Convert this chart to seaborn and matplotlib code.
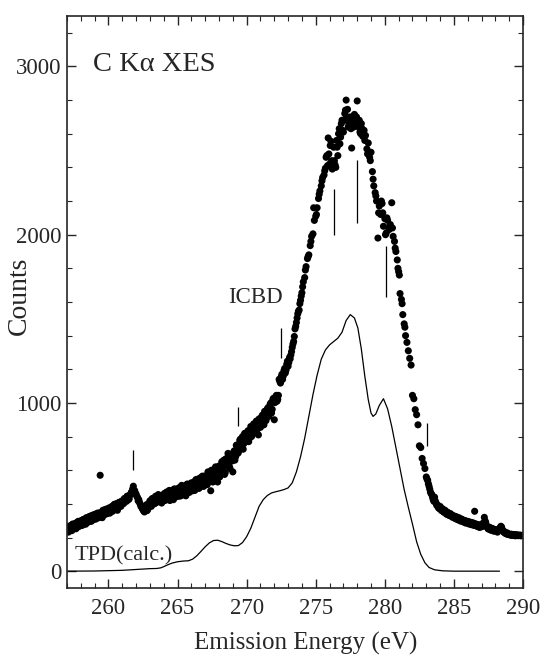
"""
C K-alpha XES spectrum with calculated TPD curve
"""

import numpy as np
import pandas as pd
import matplotlib
matplotlib.use("Agg")
import matplotlib.pyplot as plt
from matplotlib.ticker import MultipleLocator
import seaborn as sns

sns.set_style("ticks")
plt.rcParams['font.family'] = ['Liberation Serif', 'DejaVu Serif']

xes_energy = [
    257.0, 257.1, 257.2, 257.3, 257.4, 257.5, 257.6, 257.7, 257.8, 257.9,
    258.0, 258.1, 258.2, 258.3, 258.4, 258.5, 258.6, 258.7, 258.8, 258.9,
    259.0, 259.1, 259.2, 259.3, 259.4, 259.5, 259.6, 259.7, 259.8, 259.9,
    260.0, 260.1, 260.2, 260.3, 260.4, 260.5, 260.6, 260.7, 260.8, 260.9,
    261.0, 261.1, 261.2, 261.3, 261.4, 261.5, 261.6, 261.7, 261.8, 261.9,
    262.0, 262.1, 262.2, 262.3, 262.4, 262.5, 262.6, 262.7, 262.8, 262.9,
    263.0, 263.1, 263.2, 263.3, 263.4, 263.5, 263.6, 263.7, 263.8, 263.9,
    264.0, 264.1, 264.2, 264.3, 264.4, 264.5, 264.6, 264.7, 264.8, 264.9,
    265.0, 265.1, 265.2, 265.3, 265.4, 265.5, 265.6, 265.7, 265.8, 265.9,
    266.0, 266.1, 266.2, 266.3, 266.4, 266.5, 266.6, 266.7, 266.8, 266.9,
    267.0, 267.1, 267.2, 267.3, 267.4, 267.5, 267.6, 267.7, 267.8, 267.9,
    268.0, 268.1, 268.2, 268.3, 268.4, 268.5, 268.6, 268.7, 268.8, 268.9,
    269.0, 269.1, 269.2, 269.3, 269.4, 269.5, 269.6, 269.7, 269.8, 269.9,
    270.0, 270.1, 270.2, 270.3, 270.4, 270.5, 270.6, 270.7, 270.8, 270.9,
    271.0, 271.1, 271.2, 271.3, 271.4, 271.5, 271.6, 271.7, 271.8, 271.9,
    272.0, 272.1, 272.2, 272.3, 272.4, 272.5, 272.6, 272.7, 272.8, 272.9,
    273.0, 273.1, 273.2, 273.3, 273.4, 273.5, 273.6, 273.7, 273.8, 273.9,
    274.0, 274.1, 274.2, 274.3, 274.4, 274.5, 274.6, 274.7, 274.8, 274.9,
    275.0, 275.1, 275.2, 275.3, 275.4, 275.5, 275.6, 275.7, 275.8, 275.9,
    276.0, 276.1, 276.2, 276.3, 276.4, 276.5, 276.6, 276.7, 276.8, 276.9,
    277.0, 277.1, 277.2, 277.3, 277.4, 277.5, 277.6, 277.7, 277.8, 277.9,
    278.0, 278.1, 278.2, 278.3, 278.4, 278.5, 278.6, 278.7, 278.8, 278.9,
    279.0, 279.1, 279.2, 279.3, 279.4, 279.5, 279.6, 279.7, 279.8, 279.9,
    280.0, 280.1, 280.2, 280.3, 280.4, 280.5, 280.6, 280.7, 280.8, 280.9,
    281.0, 281.1, 281.2, 281.3, 281.4, 281.5, 281.6, 281.7, 281.8, 281.9,
    282.0, 282.1, 282.2, 282.3, 282.4, 282.5, 282.6, 282.7, 282.8, 282.9,
    283.0, 283.1, 283.2, 283.3, 283.4, 283.5, 283.6, 283.7, 283.8, 283.9,
    284.0, 284.1, 284.2, 284.3, 284.4, 284.5, 284.6, 284.7, 284.8, 284.9,
    285.0, 285.1, 285.2, 285.3, 285.4, 285.5, 285.6, 285.7, 285.8, 285.9,
    286.0, 286.1, 286.2, 286.3, 286.4, 286.5, 286.6, 286.7, 286.8, 286.9,
    287.0, 287.1, 287.2, 287.3, 287.4, 287.5, 287.6, 287.7, 287.8, 287.9,
    288.0, 288.1, 288.2, 288.3, 288.4, 288.5, 288.6, 288.7, 288.8, 288.9,
    289.0, 289.1, 289.2, 289.3, 289.4, 289.5, 289.6, 289.7, 289.8, 289.9,
    290.0,
]
xes_counts = [
    255, 232, 268, 245, 280, 252, 285, 258, 296, 268,
    300, 272, 308, 285, 318, 290, 324, 298, 332, 305,
    338, 310, 345, 318, 570, 330, 362, 335, 368, 342,
    374, 345, 382, 356, 395, 368, 402, 375, 410, 385,
    418, 402, 428, 415, 442, 430, 456, 472, 505, 478,
    458, 438, 425, 398, 382, 365, 352, 372, 360, 392,
    418, 385, 432, 400, 445, 410, 455, 415, 420, 448,
    455, 420, 470, 432, 480, 440, 458, 425, 488, 462,
    490, 445, 478, 510, 462, 495, 448, 518, 480, 500,
    525, 478, 512, 540, 495, 548, 510, 520, 565, 505,
    560, 515, 590, 535, 478, 575, 548, 610, 565, 530,
    625, 570, 650, 605, 575, 668, 628, 690, 610, 672,
    590, 715, 680, 750, 705, 778, 730, 800, 758, 820,
    772, 835, 790, 860, 808, 875, 825, 892, 850, 905,
    855, 920, 875, 950, 895, 965, 920, 992, 940, 1022,
    900, 1035, 1010, 1045, 1128, 1155, 1140, 1192, 1178, 1230,
    1218, 1270, 1285, 1330, 1365, 1440, 1478, 1530, 1552, 1610,
    1655, 1720, 1745, 1810, 1858, 1880, 1935, 1990, 2005, 2085,
    2110, 2160, 2215, 2260, 2290, 2340, 2355, 2395, 2470, 2575,
    2420, 2555, 2390, 2520, 2415, 2560, 2470, 2630, 2580, 2680,
    2610, 2720, 2800, 2745, 2660, 2700, 2515, 2650, 2715, 2670,
    2795, 2640, 2610, 2660, 2585, 2620, 2590, 2510, 2545, 2460,
    2490, 2375, 2290, 2250, 2200, 1980, 2170, 2120, 2185, 2050,
    2095, 2010, 2085, 2030, 2060, 2190, 1990, 1960, 1900, 1850,
    1780, 1650, 1615, 1525, 1470, 1400, 1360, 1310, 1265, 1225,
    1045, 1025, 960, 930, 870, 745, 735, 670, 640, 610,
    560, 540, 505, 470, 455, 425, 440, 405, 395, 375,
    385, 360, 368, 350, 356, 338, 345, 330, 336, 320,
    328, 312, 318, 305, 314, 298, 306, 292, 300, 288,
    296, 280, 290, 276, 285, 356, 278, 266, 275, 262,
    270, 285, 320, 290, 262, 250, 258, 244, 252, 238,
    246, 236, 242, 255, 267, 248, 232, 226, 222, 218,
    220, 214, 218, 212, 216, 213, 215, 212, 214, 212,
    213,
]

# second scan, low-energy side
low_energy = [
    257.05, 257.15, 257.25, 257.35, 257.45, 257.55, 257.65, 257.75, 257.85, 257.95,
    258.05, 258.15, 258.25, 258.35, 258.45, 258.55, 258.65, 258.75, 258.85, 258.95,
    259.05, 259.15, 259.25, 259.35, 259.45, 259.55, 259.65, 259.75, 259.85, 259.95,
    260.05, 260.15, 260.25, 260.35, 260.45, 260.55, 260.65, 260.75, 260.85, 260.95,
    261.05, 261.15, 261.25, 261.35, 261.45, 261.55, 261.65, 261.75, 261.85, 261.95,
    262.05, 262.15, 262.25, 262.35, 262.45, 262.55, 262.65, 262.75, 262.85, 262.95,
    263.05, 263.15, 263.25, 263.35, 263.45, 263.55, 263.65, 263.75, 263.85, 263.95,
    264.05, 264.15, 264.25, 264.35, 264.45, 264.55, 264.65, 264.75, 264.85, 264.95,
    265.05, 265.15, 265.25, 265.35, 265.45, 265.55, 265.65, 265.75, 265.85, 265.95,
    266.05, 266.15, 266.25, 266.35, 266.45, 266.55, 266.65, 266.75, 266.85, 266.95,
    267.05, 267.15, 267.25, 267.35, 267.45, 267.55, 267.65, 267.75, 267.85, 267.95,
    268.05, 268.15, 268.25, 268.35, 268.45, 268.55, 268.65, 268.75, 268.85, 268.95,
    269.05, 269.15, 269.25, 269.35, 269.45, 269.55, 269.65, 269.75, 269.85, 269.95,
    270.05, 270.15, 270.25, 270.35, 270.45, 270.55, 270.65, 270.75, 270.85, 270.95,
    271.05, 271.15, 271.25, 271.35, 271.45, 271.55, 271.65, 271.75, 271.85, 271.95,
    272.05, 272.15, 272.25, 272.35, 272.45, 272.55, 272.65, 272.75, 272.85, 272.95,
    273.05, 273.15, 273.25, 273.35, 273.45, 273.55, 273.65, 273.75, 273.85, 273.95,
]
low_counts = [
    262, 244, 270, 241, 268, 275, 252, 288, 266, 279,
    281, 305, 292, 279, 310, 302, 325, 296, 314, 330,
    312, 340, 328, 347, 333, 318, 352, 364, 341, 357,
    375, 352, 384, 366, 398, 377, 362, 408, 392, 415,
    408, 432, 420, 446, 425, 452, 468, 488, 482, 462,
    445, 418, 408, 385, 372, 358, 382, 395, 368, 405,
    388, 430, 415, 402, 440, 412, 452, 435, 405, 442,
    462, 432, 470, 445, 420, 478, 452, 488, 440, 465,
    470, 498, 448, 505, 482, 455, 512, 490, 468, 520,
    500, 528, 480, 545, 515, 492, 555, 530, 505, 565,
    548, 515, 582, 552, 600, 530, 575, 620, 548, 598,
    560, 628, 602, 660, 585, 645, 700, 622, 680, 655,
    705, 660, 748, 700, 722, 785, 752, 725, 818, 780,
    805, 770, 838, 800, 855, 822, 880, 840, 810, 905,
    890, 928, 870, 948, 915, 972, 938, 1000, 962, 1028,
    1002, 1045, 1020, 1140, 1118, 1170, 1160, 1205, 1195, 1248,
    1240, 1262, 1305, 1350, 1395, 1455, 1505, 1545, 1590, 1635,
]

# second scan, peak region
peak_energy = [
    274.05, 274.25, 274.45, 274.65, 274.85, 275.05, 275.25, 275.45, 275.65, 275.75,
    275.85, 275.95, 276.05, 276.15, 276.25, 276.35, 276.45, 276.55, 276.65, 276.75,
    276.85, 276.95, 277.05, 277.15, 277.25, 277.35, 277.45, 277.55, 277.65, 277.75,
    277.85, 277.95, 278.05, 278.15, 278.25, 278.35, 278.55, 278.75, 278.95, 279.15,
    279.35, 279.55, 279.75, 279.85, 280.05, 280.15, 280.35, 280.55, 280.75, 280.95,
    281.05, 281.25, 281.45,
]
peak_counts = [
    1690, 1790, 1870, 1960, 2160, 2120, 2240, 2320, 2380, 2460,
    2410, 2480, 2530, 2440, 2410, 2440, 2400, 2520, 2600, 2540,
    2660, 2620, 2680, 2740, 2700, 2640, 2680, 2630, 2690, 2640,
    2660, 2700, 2650, 2680, 2600, 2630, 2560, 2480, 2440, 2330,
    2230, 2130, 2200, 2130, 2000, 2100, 2050, 2040, 1920, 1800,
    1760, 1590, 1450,
]

# second scan, high-energy tail
high_energy = [
    283.05, 283.15, 283.25, 283.35, 283.45, 283.55, 283.65, 283.75, 283.85, 283.95,
    284.05, 284.15, 284.25, 284.35, 284.45, 284.55, 284.65, 284.75, 284.85, 284.95,
    285.05, 285.15, 285.25, 285.35, 285.45, 285.55, 285.65, 285.75, 285.85, 285.95,
    286.05, 286.15, 286.25, 286.35, 286.45, 286.55, 286.65, 286.75, 286.85, 286.95,
    287.05, 287.15, 287.25, 287.35, 287.45, 287.55, 287.65, 287.75, 287.85, 287.95,
    288.05, 288.15, 288.25, 288.35, 288.45, 288.55, 288.65, 288.75, 288.85, 288.95,
    289.05, 289.15, 289.25, 289.35, 289.45, 289.55, 289.65, 289.75, 289.85, 289.95,
]
high_counts = [
    548, 520, 488, 462, 440, 415, 418, 392, 382, 372,
    368, 372, 352, 362, 340, 350, 332, 342, 325, 330,
    318, 325, 308, 318, 300, 310, 295, 302, 286, 296,
    285, 292, 278, 288, 272, 282, 268, 276, 260, 270,
    265, 275, 300, 272, 255, 262, 245, 255, 240, 248,
    240, 232, 248, 258, 262, 240, 235, 225, 228, 220,
    216, 220, 212, 218, 210, 216, 211, 214, 210, 213,
]

# calculated TPD curve
tpd_energy = [
    257.0, 259.0, 261.0, 262.0, 263.0, 263.5, 263.8, 264.0, 264.3, 264.6,
    265.0, 265.4, 265.8, 266.1, 266.4, 266.7, 267.0, 267.3, 267.6, 267.9,
    268.2, 268.5, 268.8, 269.1, 269.4, 269.7, 270.0, 270.3, 270.6, 270.9,
    271.2, 271.5, 271.8, 272.1, 272.4, 272.7, 273.0, 273.3, 273.6, 273.9,
    274.2, 274.5, 274.8, 275.1, 275.4, 275.7, 276.0, 276.3, 276.6, 276.9,
    277.2, 277.5, 277.8, 278.05, 278.3, 278.55, 278.8, 279.0, 279.15, 279.35,
    279.6, 279.9, 280.2, 280.5, 280.8, 281.1, 281.4, 281.7, 282.0, 282.3,
    282.6, 282.9, 283.2, 283.6, 284.2, 285.0, 288.3,
]
tpd_counts = [
    0, 1, 5, 10, 15, 16, 20, 27, 38, 48,
    56, 60, 62, 72, 92, 118, 145, 168, 182, 184,
    176, 165, 156, 151, 152, 170, 205, 255, 320, 385,
    425, 450, 465, 472, 478, 485, 495, 525, 590, 680,
    790, 920, 1050, 1165, 1260, 1315, 1345, 1365, 1385, 1420,
    1490, 1525, 1505, 1445, 1320, 1160, 1020, 940, 920, 935,
    985, 1025, 965, 860, 735, 610, 485, 380, 280, 175,
    100, 50, 22, 8, 2, 0, 0,
]

# vertical marks (energy, lower end, upper end)
mark_energy = [261.8, 269.35, 272.45, 276.35, 278.0, 280.05, 283.05]
mark_low = [600, 860, 1268, 2000, 2070, 1631, 746]
mark_high = [722, 978, 1446, 2274, 2444, 1934, 883]


def main():
    xes = pd.DataFrame({
        'energy': xes_energy + low_energy + peak_energy + high_energy,
        'counts': xes_counts + low_counts + peak_counts + high_counts,
    })
    tpd = pd.DataFrame({'energy': tpd_energy, 'counts': tpd_counts})

    fig = plt.figure(figsize=(5.43, 6.55), dpi=100)
    ax = fig.add_axes([0.1234, 0.1023, 0.8398, 0.8733])

    sns.scatterplot(data=xes, x='energy', y='counts', s=26, color='black',
                    edgecolor='none', linewidth=0, ax=ax)
    sns.lineplot(data=tpd, x='energy', y='counts', color='black', linewidth=0.9,
                 estimator=None, sort=False, ax=ax)
    ax.vlines(mark_energy, mark_low, mark_high, color='black', linewidth=0.9)

    ax.text(258.9, 2973, 'C Kα XES', fontsize=20.5, ha='left', va='baseline')
    ax.text(268.66, 1596, 'ICBD', fontsize=16.5, ha='left', va='baseline')
    ax.text(257.58, 65, 'TPD(calc.)', fontsize=16, ha='left', va='baseline')

    ax.set_xlim(257, 290)
    ax.set_ylim(-100, 3300)
    ax.xaxis.set_major_locator(MultipleLocator(5))
    ax.xaxis.set_minor_locator(MultipleLocator(1))
    ax.yaxis.set_major_locator(MultipleLocator(1000))
    ax.yaxis.set_minor_locator(MultipleLocator(200))

    ax.tick_params(which='both', direction='in', top=True, right=True,
                   labelsize=16.5, width=1.0)
    ax.tick_params(which='major', length=6.5)
    ax.tick_params(which='minor', length=3.6, width=0.8)
    ax.tick_params(axis='x', pad=7)
    ax.tick_params(axis='y', pad=4)
    for spine in ax.spines.values():
        spine.set_linewidth(1.2)

    ax.set_xlabel('Emission Energy (eV)', fontsize=18)
    ax.set_ylabel('Counts', fontsize=20)
    ax.xaxis.set_label_coords(0.523, -0.077)
    ax.yaxis.set_label_coords(-0.077, 0.51)

    fig.savefig('out.png', dpi=100, facecolor='white')


if __name__ == "__main__":
    main()
